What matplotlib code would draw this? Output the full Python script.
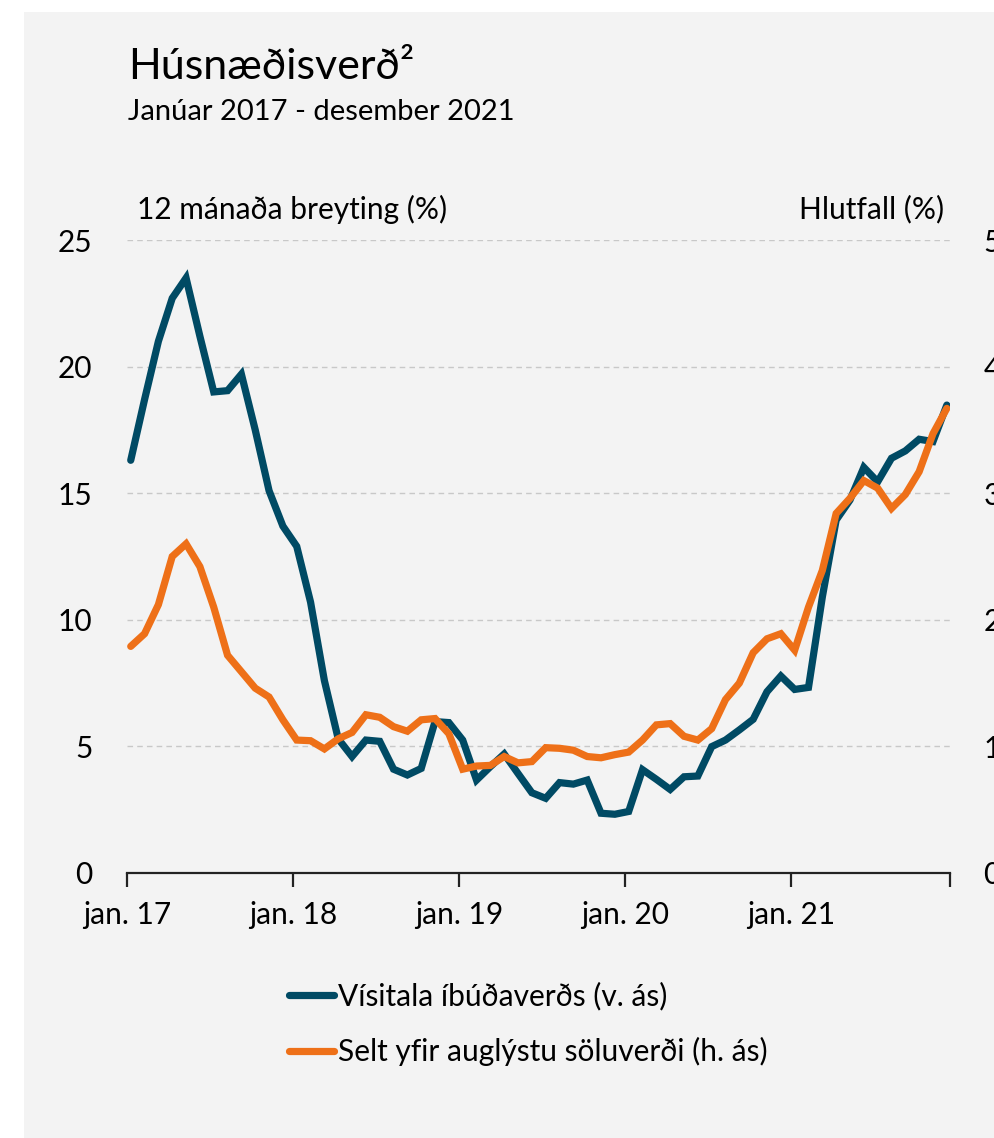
import numpy as np
import matplotlib
matplotlib.use("Agg")
import matplotlib.pyplot as plt
from matplotlib.patches import Rectangle
from matplotlib.lines import Line2D

plt.rcParams['font.family'] = ['Lato', 'DejaVu Sans']

# 12 mánaða breyting vísitölu íbúðaverðs (%), jan. 2017 - des. 2021
visitala = [16.3, 18.7, 21.0, 22.7, 23.5, 21.2, 19.0, 19.05, 19.7, 17.5, 15.1, 13.7,
            12.9, 10.7, 7.6, 5.3, 4.6, 5.25, 5.2, 4.1, 3.87, 4.13, 5.98, 5.94,
            5.25, 3.67, 4.2, 4.7, 3.93, 3.17, 2.95, 3.57, 3.51, 3.67, 2.36, 2.32,
            2.43, 4.08, 3.7, 3.3, 3.8, 3.83, 4.99, 5.25, 5.65, 6.07, 7.16, 7.78,
            7.25, 7.33, 10.9, 13.94, 14.73, 16.02, 15.45, 16.38, 16.67, 17.13, 17.04, 18.48]

# Hlutfall íbúða seldar yfir auglýstu söluverði (%)
selt_yfir = [1.79, 1.89, 2.12, 2.50, 2.60, 2.42, 2.10, 1.72, 1.59, 1.46, 1.39, 1.21,
             1.05, 1.045, 0.98, 1.06, 1.11, 1.25, 1.23, 1.156, 1.12, 1.21, 1.22, 1.10,
             0.82, 0.845, 0.85, 0.92, 0.87, 0.88, 0.99, 0.985, 0.97, 0.92, 0.91, 0.935,
             0.955, 1.05, 1.17, 1.18, 1.08, 1.05, 1.14, 1.37, 1.50, 1.74, 1.85, 1.89,
             1.76, 2.10, 2.39, 2.84, 2.96, 3.10, 3.04, 2.88, 2.99, 3.17, 3.47, 3.67]

tick_labels = ["jan. 17", "jan. 18", "jan. 19", "jan. 20", "jan. 21", ""]
left_ticks = [0, 5, 10, 15, 20, 25]
right_ticks = [0, 1, 2, 3, 4, 5]

dark = "#004a64"
orange = "#ee7018"
bg = "#f3f3f3"

W, H = 995, 1138
fig = plt.figure(figsize=(W / 100, H / 100), dpi=100, facecolor="white")
fig.patches.append(Rectangle((24 / W, 0), 1 - 24 / W, 1 - 12 / H, transform=fig.transFigure,
                             facecolor=bg, edgecolor="none", zorder=-10))

ax = fig.add_axes([127 / W, 1 - 873 / H, (950 - 127) / W, (873 - 240) / H])
ax.set_facecolor("none")
ax2 = ax.twinx()

x = np.arange(len(visitala)) + 0.27
ax.plot(x, visitala, color=dark, lw=5.2, solid_capstyle="round", solid_joinstyle="miter", zorder=3)
ax2.plot(x, selt_yfir, color=orange, lw=5.2, solid_capstyle="round", solid_joinstyle="miter", zorder=3)

ax.set_xlim(0, 59.5)
ax.set_ylim(0, 25)
ax2.set_ylim(0, 5)
ax.set_xticks([0, 12, 24, 36, 48, 59.5])
ax.set_xticklabels(tick_labels)
ax.set_yticks(left_ticks)
ax2.set_yticks(right_ticks)

ax.grid(axis="y", color="#c8c8c8", ls=(0, (4, 3)), lw=1.0)
ax.set_axisbelow(True)

for a in (ax, ax2):
    for s in ("left", "right", "top", "bottom"):
        a.spines[s].set_visible(False)
ax.spines["bottom"].set_visible(True)
ax.spines["bottom"].set_linewidth(1.6)
ax.spines["bottom"].set_color("#222222")

fs = 21.5
ax.tick_params(axis="x", length=10, width=1.6, color="#222222", labelsize=fs, pad=10)
ax.tick_params(axis="y", length=0, labelsize=fs, pad=25)
ax2.tick_params(axis="y", length=0, labelsize=fs, pad=24)

fig.text(128 / W, 1 - 67 / H, "Húsnæðisverð²", fontsize=31, va="center", ha="left")
fig.text(128 / W, 1 - 112 / H, "Janúar 2017 - desember 2021", fontsize=21, va="center", ha="left")
fig.text(137 / W, 1 - 209 / H, "12 mánaða breyting (%)", fontsize=fs, va="center", ha="left")
fig.text(944 / W, 1 - 209 / H, "Hlutfall (%)", fontsize=fs, va="center", ha="right")

handles = [Line2D([], [], color=dark, lw=5.2, solid_capstyle="round"),
           Line2D([], [], color=orange, lw=5.2, solid_capstyle="round")]
fig.legend(handles, ["Vísitala íbúðaverðs (v. ás)", "Selt yfir auglýstu söluverði (h. ás)"],
           loc="center left", bbox_to_anchor=(262 / W, 1 - 1024 / H), frameon=False,
           fontsize=fs, handlelength=1.5, handletextpad=0.15, labelspacing=0.9)

fig.savefig("out.png", dpi=100, facecolor="white")
